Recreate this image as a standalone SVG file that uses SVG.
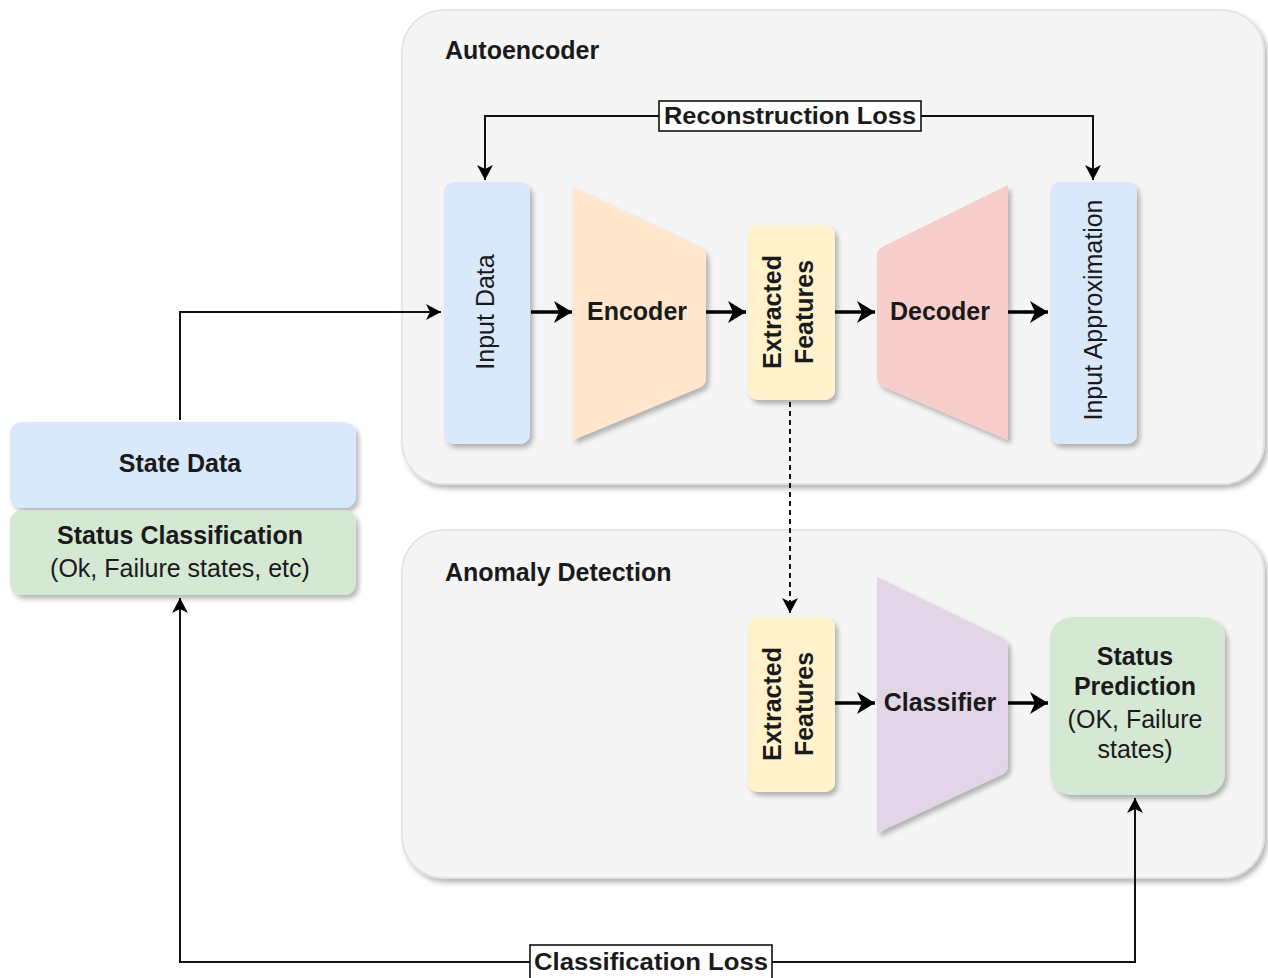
<svg xmlns="http://www.w3.org/2000/svg" width="1268" height="978" viewBox="0 0 1268 978">
<style>
text{font-family:"Liberation Sans",Arial,sans-serif;fill:#1a1a1a}
.b{font-weight:bold}
.t25{font-size:25px}
.cont{fill:#f5f5f5;stroke:#e0e0e0;stroke-width:1.5}
.thick{stroke:#000;stroke-width:3.5;fill:none}
.thin{stroke:#111;stroke-width:2;fill:none}
.lbl{fill:#fff;stroke:#111;stroke-width:1.6}
</style>
<defs>
<filter id="sh" x="-10%" y="-10%" width="130%" height="130%">
<feDropShadow dx="3" dy="4" stdDeviation="2.5" flood-color="#000" flood-opacity="0.28"/>
</filter>
<marker id="bigArr" markerUnits="userSpaceOnUse" markerWidth="20" markerHeight="22" refX="18" refY="11" orient="auto">
<path d="M0,0 L18,11 L0,22 L5,11 Z" fill="#000"/>
</marker>
<marker id="smArr" markerUnits="userSpaceOnUse" markerWidth="16" markerHeight="16" refX="15" refY="8" orient="auto">
<path d="M0,0 L15,8 L0,16 L4,8 Z" fill="#000"/>
</marker>
</defs>
<rect width="1268" height="978" fill="#fff"/>

<g id="autoencoder">
<rect class="cont" x="402" y="10" width="862" height="474" rx="42" filter="url(#sh)"/>
<text class="b t25" x="445" y="59">Autoencoder</text>
</g>
<g id="anomaly-detection">
<rect class="cont" x="402" y="530" width="862" height="348" rx="42" filter="url(#sh)"/>
<text class="b t25" x="445" y="581">Anomaly Detection</text>
</g>

<g id="input-data">
<rect x="444" y="182" width="86" height="262" rx="10" fill="#dae8fc" filter="url(#sh)"/>
<text class="t25" transform="translate(494,312) rotate(-90)" text-anchor="middle">Input Data</text>
</g>
<g id="encoder">
<path d="M573,187 L701,248 Q706,251 706,257 L706,378 Q706,384 701,387 L573,440 Z" fill="#ffe6cc" filter="url(#sh)"/>
<text class="b t25" x="637" y="320" text-anchor="middle">Encoder</text>
</g>
<g id="features-top">
<rect x="748" y="225" width="87" height="175" rx="10" fill="#fff2cc" filter="url(#sh)"/>
<text class="b t25" transform="translate(781,312) rotate(-90)" text-anchor="middle">Extracted</text>
<text class="b t25" transform="translate(813,312) rotate(-90)" text-anchor="middle">Features</text>
</g>
<g id="decoder">
<path d="M1008,185 L1008,440 L882,386 Q877,383 877,377 L877,256 Q877,250 882,247 Z" fill="#f8cecc" filter="url(#sh)"/>
<text class="b t25" x="940" y="320" text-anchor="middle">Decoder</text>
</g>
<g id="input-approximation">
<rect x="1050" y="182" width="87" height="262" rx="10" fill="#dae8fc" filter="url(#sh)"/>
<text class="t25" transform="translate(1102,310) rotate(-90)" text-anchor="middle">Input Approximation</text>
</g>

<g id="features-bottom">
<rect x="748" y="617" width="87" height="175" rx="10" fill="#fff2cc" filter="url(#sh)"/>
<text class="b t25" transform="translate(781,704) rotate(-90)" text-anchor="middle">Extracted</text>
<text class="b t25" transform="translate(813,704) rotate(-90)" text-anchor="middle">Features</text>
</g>
<g id="classifier">
<path d="M877,577 L1003,638 Q1008,641 1008,647 L1008,765 Q1008,771 1003,774 L877,833 Z" fill="#e1d5e7" filter="url(#sh)"/>
<text class="b t25" x="940" y="711" text-anchor="middle">Classifier</text>
</g>
<g id="status-prediction">
<rect x="1050" y="617" width="175" height="178" rx="22" fill="#d5e8d4" filter="url(#sh)"/>
<text class="b t25" x="1135" y="665" text-anchor="middle">Status</text>
<text class="b t25" x="1135" y="695" text-anchor="middle">Prediction</text>
<text class="t25" x="1135" y="728" text-anchor="middle">(OK, Failure</text>
<text class="t25" x="1135" y="758" text-anchor="middle">states)</text>
</g>

<g id="state-data">
<rect x="10" y="422" width="346" height="86" rx="12" fill="#dae8fc" filter="url(#sh)"/>
<text class="b t25" x="180" y="472" text-anchor="middle">State Data</text>
</g>
<g id="status-classification">
<rect x="10" y="510" width="346" height="85" rx="12" fill="#d5e8d4" filter="url(#sh)"/>
<text class="b t25" x="180" y="544" text-anchor="middle">Status Classification</text>
<text class="t25" x="180" y="577" text-anchor="middle">(Ok, Failure states, etc)</text>
</g>

<g id="connectors">
<path class="thin" d="M180,420 L180,312 L441,312" marker-end="url(#smArr)"/>
<line class="thick" x1="531" y1="312" x2="572" y2="312" marker-end="url(#bigArr)"/>
<line class="thick" x1="706" y1="312" x2="746" y2="312" marker-end="url(#bigArr)"/>
<line class="thick" x1="835" y1="312" x2="875" y2="312" marker-end="url(#bigArr)"/>
<line class="thick" x1="1008" y1="312" x2="1048" y2="312" marker-end="url(#bigArr)"/>
<path class="thin" d="M790,116 L485,116 L485,180" marker-end="url(#smArr)"/>
<path class="thin" d="M790,116 L1093,116 L1093,180" marker-end="url(#smArr)"/>
<rect class="lbl" x="659" y="101" width="262" height="30"/>
<text class="b" x="790" y="124" text-anchor="middle" font-size="23" textLength="252" lengthAdjust="spacingAndGlyphs">Reconstruction Loss</text>
<line class="thin" x1="790" y1="402" x2="790" y2="613" stroke-dasharray="5,4" marker-end="url(#smArr)"/>
<line class="thick" x1="835" y1="703" x2="875" y2="703" marker-end="url(#bigArr)"/>
<line class="thick" x1="1008" y1="703" x2="1048" y2="703" marker-end="url(#bigArr)"/>
<path class="thin" d="M651,962 L1135,962 L1135,798" marker-end="url(#smArr)"/>
<path class="thin" d="M651,962 L180,962 L180,598" marker-end="url(#smArr)"/>
<rect class="lbl" x="530" y="945" width="242" height="36"/>
<text class="b" x="651" y="970" text-anchor="middle" font-size="23" textLength="234" lengthAdjust="spacingAndGlyphs">Classification Loss</text>
</g>
</svg>
